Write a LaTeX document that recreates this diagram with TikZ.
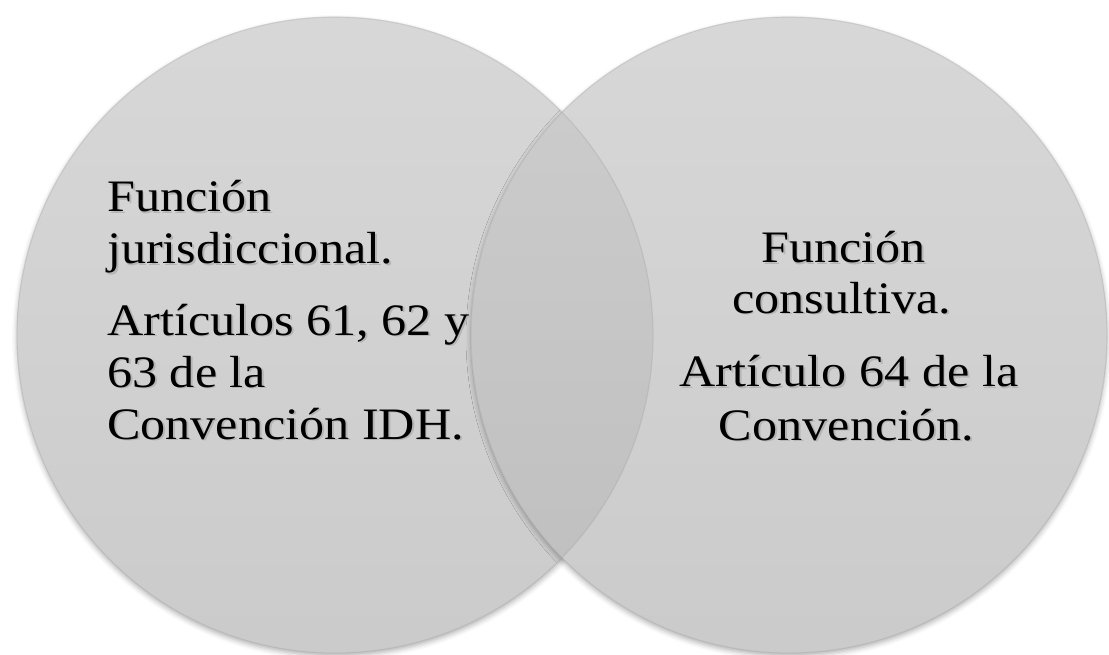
\documentclass[tikz,border=0pt]{standalone}
\usepackage{fontspec}
\setmainfont{Liberation Serif}
\usetikzlibrary{shadows.blur}
\definecolor{ctop}{gray}{0.845}
\definecolor{cbot}{gray}{0.795}
\definecolor{otop}{gray}{0.805}
\definecolor{obot}{gray}{0.745}
\definecolor{tshadow}{gray}{0.71}
\tikzset{
  circshadow/.style={blur shadow={shadow xshift=0pt, shadow yshift=-3pt, shadow blur radius=5pt, shadow opacity=30}},
  vcircle/.style={top color=ctop, bottom color=cbot},
  vlens/.style={top color=otop, bottom color=obot},
  vrim/.style={draw=gray!70, draw opacity=0.35, line width=1.2pt},
  txt/.style={font=\fontsize{45}{52}\selectfont, inner sep=0pt, text=black, xscale=1.115},
}
\newcommand{\shtext}[1]{\makebox[0pt][l]{\hspace{1.6pt}\raisebox{-1.8pt}{\textcolor{tshadow}{#1}}}#1}
\begin{document}
\begin{tikzpicture}[x=1pt,y=-1pt]
\useasboundingbox (0,0) rectangle (1109,655);
\coordinate (cl) at (335,335);
\coordinate (cr) at (789,335);
% left circle
\path[circshadow] (cl) circle (318);
\shade[vcircle] (cl) circle (318);
% right circle
\path[circshadow] (cr) circle (318);
\shade[vcircle] (cr) circle (318);
% overlap
\begin{scope}
  \clip (cl) circle (318);
  \shade[vlens] (cr) circle (318);
\end{scope}
\draw[vrim] (cl) circle (318);
\draw[vrim] (cr) circle (318);
% left text
\node[txt, anchor=base west] (l1) at (107,211.7) {\shtext{Función}};
\node[txt, anchor=base west] (l2) at (107,264) {\shtext{jurisdiccional.}};
\node[txt, anchor=base west] (l3) at (107,335) {\shtext{Artículos 61, 62 y}};
\node[txt, anchor=base west] (l4) at (107,387) {\shtext{63 de la}};
\node[txt, anchor=base west] (l5) at (107,439) {\shtext{Convención IDH.}};
% right text
\node[txt, anchor=base] (r1) at (843.5,262.7) {\shtext{Función}};
\node[txt, anchor=base] (r2) at (841.5,313) {\shtext{consultiva.}};
\node[txt, anchor=base] (r3) at (849,386.7) {\shtext{Artículo 64 de la}};
\node[txt, anchor=base] (r4) at (846.5,440) {\shtext{Convención.}};
\end{tikzpicture}
\end{document}
